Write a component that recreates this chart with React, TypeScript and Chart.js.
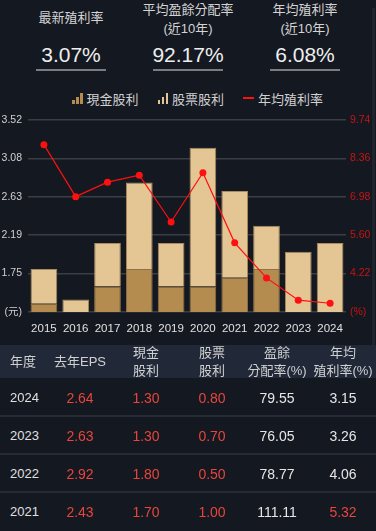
import React, { useEffect, useRef } from "react";
import { Chart, registerables } from "chart.js";

Chart.register(...registerables);

// ---- data ----
const years = ["2015", "2016", "2017", "2018", "2019", "2020", "2021", "2022", "2023", "2024"];
const cashDividend = [1.4, 1.2, 1.6, 1.8, 1.6, 1.6, 1.7, 1.8, 1.3, 1.3];
const stockDividend = [0.4, 0.25, 0.5, 1.0, 0.5, 1.6, 1.0, 0.5, 0.7, 0.8];
const yieldRate = [8.85, 6.98, 7.5, 7.75, 6.07, 7.84, 5.32, 4.06, 3.26, 3.15];
const leftTickLabels = ["(元)", "1.75", "2.19", "2.63", "3.08", "3.52"];
const rightTickLabels = ["(%)", "4.22", "5.60", "6.98", "8.36", "9.74"];
const leftRange = [1.305, 3.52];
const rightRange = [2.835, 9.735];

const statTitles = [["最新殖利率"], ["平均盈餘分配率", "(近10年)"], ["年均殖利率", "(近10年)"]];
const statValues = ["3.07%", "92.17%", "6.08%"];

const tableHeaders = [["年度"], ["去年EPS"], ["現金", "股利"], ["股票", "股利"], ["盈餘", "分配率(%)"], ["年均", "殖利率(%)"]];
const tableYears = ["2024", "2023", "2022", "2021"];
const tableEps = ["2.64", "2.63", "2.92", "2.43"];
const tableCash = ["1.30", "1.30", "1.80", "1.70"];
const tableStock = ["0.80", "0.70", "0.50", "1.00"];
const tablePayout = ["79.55", "76.05", "78.77", "111.11"];
const tableYield = ["3.15", "3.26", "4.06", "5.32"];
const yieldHighlight = [false, false, false, true];

const BG = "#141820";
const CASH = "#b48c50";
const STOCK = "#e4c594";
const RED = "#ff1010";
const FONT = '"Liberation Sans", "Noto Sans CJK TC", sans-serif';

const colCenters = [null, 80, 146, 212, 277, 343];

function BarIcon({ color }: { color: string }) {
  return (
    <span style={{ display: "inline-flex", alignItems: "flex-end", height: 11, gap: 1.5, marginRight: 4 }}>
      <span style={{ width: 2.5, height: 4, background: color }} />
      <span style={{ width: 2.5, height: 7, background: color }} />
      <span style={{ width: 2.5, height: 11, background: color }} />
    </span>
  );
}

export default function App() {
  const canvasRef = useRef<HTMLCanvasElement | null>(null);

  useEffect(() => {
    document.body.style.margin = "0";
    const ctx = canvasRef.current!;
    const makeTicks = (range: number[]) => (axis: any) => {
      const step = (range[1] - range[0]) / 5;
      axis.ticks = [0, 1, 2, 3, 4, 5].map((i) => ({ value: range[0] + i * step }));
    };
    const chart = new Chart(ctx, {
      type: "bar",
      data: {
        labels: years,
        datasets: [
          {
            type: "line",
            label: "年均殖利率",
            data: yieldRate,
            yAxisID: "y1",
            borderColor: RED,
            backgroundColor: RED,
            borderWidth: 1.2,
            pointRadius: 3.5,
            pointBackgroundColor: RED,
            pointBorderWidth: 0,
            order: 0,
          } as any,
          {
            label: "現金股利",
            data: cashDividend,
            backgroundColor: CASH,
            borderColor: "#8f7048",
            borderWidth: 1,
            yAxisID: "y",
            stack: "s",
            categoryPercentage: 0.84,
            barPercentage: 1,
            order: 1,
          },
          {
            label: "股票股利",
            data: stockDividend,
            backgroundColor: STOCK,
            borderColor: "#a88a60",
            borderWidth: 1,
            yAxisID: "y",
            stack: "s",
            categoryPercentage: 0.84,
            barPercentage: 1,
            order: 1,
          },
        ],
      },
      options: {
        animation: false,
        responsive: false,
        maintainAspectRatio: false,
        layout: { padding: { top: 16, left: 0, right: 0, bottom: 0 } },
        plugins: { legend: { display: false }, tooltip: { enabled: false } },
        scales: {
          x: {
            stacked: true,
            grid: { display: false },
            border: { display: false },
            ticks: { color: "#e0e0e0", font: { family: FONT, size: 11.5 }, padding: 2, maxRotation: 0, autoSkip: false },
            afterFit: (s: any) => { s.height = 20; },
          },
          y: {
            stacked: true,
            position: "left",
            min: leftRange[0],
            max: leftRange[1],
            afterBuildTicks: makeTicks(leftRange),
            ticks: {
              color: "#d0d0d0",
              font: { family: FONT, size: 10.5 },
              padding: 6,
              callback: (_v: any, i: number) => leftTickLabels[i],
            },
            grid: { color: "#3a3d43", lineWidth: 1.6, drawTicks: false },
            border: { display: false },
            afterFit: (s: any) => { s.width = 28; },
          },
          y1: {
            position: "right",
            min: rightRange[0],
            max: rightRange[1],
            afterBuildTicks: makeTicks(rightRange),
            ticks: {
              color: "#c81414",
              font: { family: FONT, size: 10.5 },
              padding: 4,
              callback: (_v: any, i: number) => rightTickLabels[i],
            },
            grid: { display: false, drawTicks: false },
            border: { display: false },
            afterFit: (s: any) => { s.width = 30; },
          },
        },
      },
    });
    return () => chart.destroy();
  }, []);

  const statCenters = [71, 188, 305];

  return (
    <div style={{ position: "relative", width: 376, height: 531, background: BG, overflow: "hidden", fontFamily: FONT }}>
      {/* header stats */}
      {statTitles.map((lines, i) => (
        <div key={i} style={{ position: "absolute", left: statCenters[i] - 60, width: 120, top: lines.length === 1 ? 8 : 0, textAlign: "center", color: "#d4d4d4", fontSize: 13, lineHeight: "19px" }}>
          {lines.map((l, j) => (
            <div key={j}>{l}</div>
          ))}
        </div>
      ))}
      {statValues.map((v, i) => (
        <div key={i} style={{ position: "absolute", left: statCenters[i] - 60, width: 120, top: 42, textAlign: "center", color: "#eeeeee", fontSize: 21, lineHeight: "26px" }}>
          {v}
        </div>
      ))}
      {statCenters.map((c, i) => (
        <div key={i} style={{ position: "absolute", left: c - 35, width: 70, top: 69, height: 2, background: "#7a7c80" }} />
      ))}

      {/* legend */}
      <div style={{ position: "absolute", top: 90, left: 72, height: 16, display: "flex", alignItems: "center", color: "#d0d0d0", fontSize: 13 }}>
        <BarIcon color={CASH} />
        <span>現金股利</span>
        <span style={{ width: 19 }} />
        <BarIcon color={STOCK} />
        <span>股票股利</span>
        <span style={{ width: 19 }} />
        <span style={{ display: "inline-block", width: 11, height: 2.5, background: RED, marginRight: 4 }} />
        <span>年均殖利率</span>
      </div>

      {/* chart */}
      <canvas ref={canvasRef} width={376} height={228} style={{ position: "absolute", left: 0, top: 104, width: 376, height: 228 }} />

      {/* scrollbar strip */}
      <div style={{ position: "absolute", left: 372, top: 8, width: 3, height: 355, background: "#20252d" }} />

      {/* table header */}
      <div style={{ position: "absolute", left: 0, top: 345, width: 376, height: 33, background: "#212939" }} />
      {tableHeaders.map((lines, i) => (
        <div
          key={i}
          style={{
            position: "absolute",
            top: lines.length === 1 ? 353 : 344,
            left: i === 0 ? 10 : (colCenters[i] as number) - 40,
            width: i === 0 ? 60 : 80,
            textAlign: i === 0 ? "left" : "center",
            color: "#d0d0d0",
            fontSize: 13,
            lineHeight: "18px",
          }}
        >
          {lines.map((l, j) => (
            <div key={j}>{l}</div>
          ))}
        </div>
      ))}

      {/* table rows */}
      {tableYears.map((y, r) => {
        const cy = 398 + r * 38;
        const cells = [tableEps[r], tableCash[r], tableStock[r], tablePayout[r], tableYield[r]];
        const colors = ["#e8453c", "#e8453c", "#e8453c", "#e6e6e6", yieldHighlight[r] ? "#e8453c" : "#e6e6e6"];
        return (
          <React.Fragment key={y}>
            <div style={{ position: "absolute", left: 10, top: cy - 9, color: "#e0e0e0", fontSize: 13, lineHeight: "18px" }}>{y}</div>
            {cells.map((c, k) => (
              <div key={k} style={{ position: "absolute", left: (colCenters[k + 1] as number) - 40, width: 80, top: cy - 9, textAlign: "center", color: colors[k], fontSize: 14, lineHeight: "18px" }}>
                {c}
              </div>
            ))}
            {r < tableYears.length - 1 && (
              <div style={{ position: "absolute", left: 0, width: 376, top: cy + 17, height: 2, background: "#262b34" }} />
            )}
          </React.Fragment>
        );
      })}
    </div>
  );
}
